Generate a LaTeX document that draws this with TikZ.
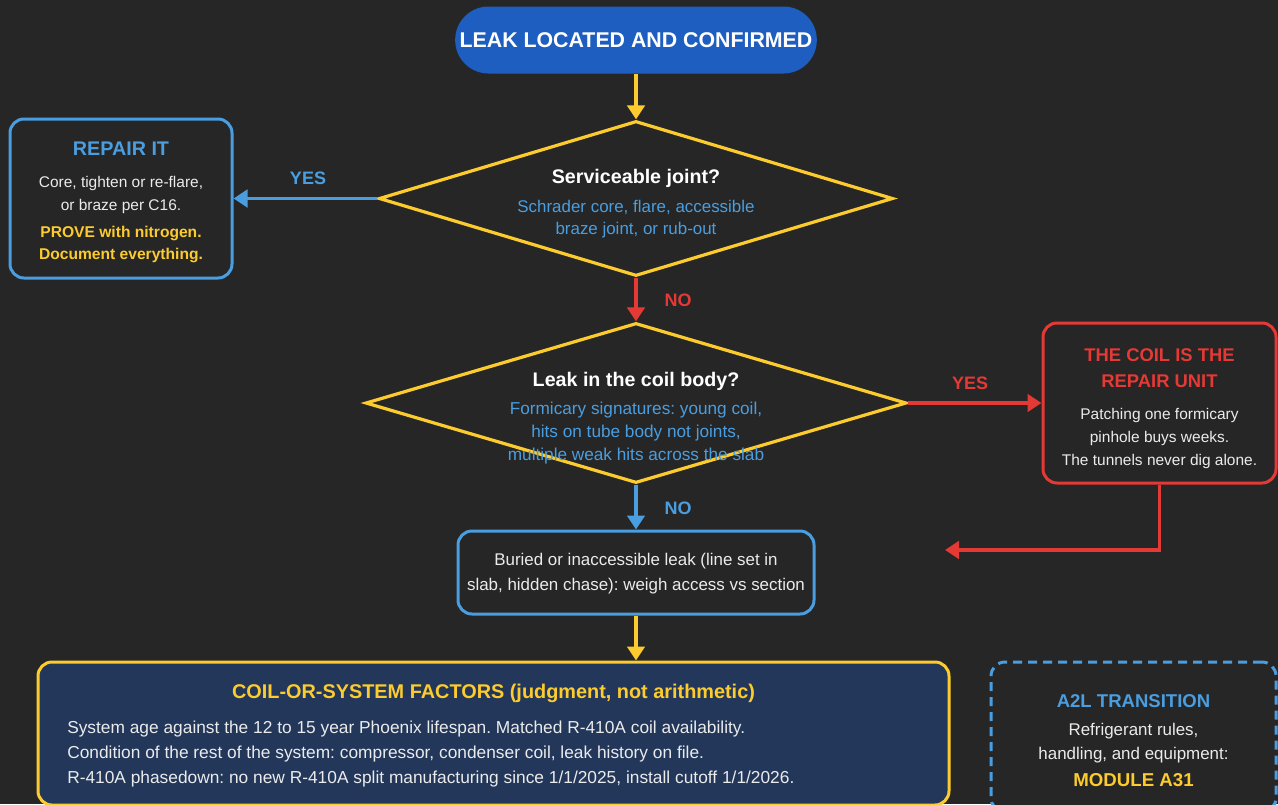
\documentclass[tikz,border=0pt]{standalone}
\usepackage{fontspec}
\setmainfont{Liberation Sans}
\usetikzlibrary{shapes.geometric,arrows.meta}
\definecolor{bg}{HTML}{262626}
\definecolor{yel}{HTML}{FCCB2E}
\definecolor{blu}{HTML}{4A9EE0}
\definecolor{myred}{HTML}{E53935}
\definecolor{txt}{HTML}{EBEBEB}
\definecolor{pill}{HTML}{1E5EC0}
\definecolor{navy}{HTML}{22375A}
\frenchspacing
\tikzset{
  tip/.style={-{Triangle[length=10.5pt,width=13pt]}},
  yarrow/.style={tip, draw=yel, line width=2.8pt},
  barrow/.style={tip, draw=blu, line width=2.8pt},
  rarrow/.style={tip, draw=myred, line width=2.8pt},
  dia/.style={diamond, draw=yel, line width=2.4pt, inner sep=0pt},
  box/.style={rectangle, rounded corners=10.5pt, line width=2.25pt, fill=bg},
  hd/.style={font=\bfseries\fontsize{14}{16}\selectfont},
  dhd/.style={font=\bfseries\fontsize{14.75}{17}\selectfont, text=white},
  bd/.style={font=\fontsize{11.6}{13}\selectfont, text=txt},
  bdl/.style={font=\fontsize{12.7}{14}\selectfont, text=txt},
  sb/.style={font=\fontsize{12.9}{14}\selectfont, text=blu},
  lbl/.style={font=\bfseries\fontsize{13.5}{16}\selectfont},
}
\begin{document}
\begin{tikzpicture}[x=0.75pt,y=-0.75pt]
\fill[bg] (0,0) rectangle (1278,804);
\clip (0,0) rectangle (1278,804);
\useasboundingbox (0,0) rectangle (1278,804);

% start
\node[fill=pill, rounded corners=25pt, minimum width=265.5pt, minimum height=50.25pt,
      text=white, font=\bfseries\fontsize{16}{18}\selectfont] (start) at (636,40) {LEAK LOCATED AND CONFIRMED};

% diamonds
\node[dia, minimum width=385.5pt, minimum height=116.25pt] (d1) at (636,198.5) {};
\node[dia, minimum width=405.75pt, minimum height=120pt] (d2) at (636,403) {};

\node[dhd] (d1t) at (636,178) {Serviceable joint?};
\node[sb, font=\fontsize{12.7}{14}\selectfont] (d1a) at (636,207) {Schrader core, flare, accessible};
\node[sb, font=\fontsize{12.7}{14}\selectfont] (d1b) at (636,230) {braze joint, or rub-out};

\node[dhd] (d2t) at (636,381) {Leak in the coil body?};
\node[sb] (d2a) at (636,410) {Formicary signatures: young coil,};
\node[sb] (d2b) at (636,433) {hits on tube body not joints,};
\node[sb] (d2c) at (636,456) {multiple weak hits across the slab};

% repair it
\node[box, draw=blu, minimum width=166.5pt, minimum height=119.25pt] (rep) at (121,198.5) {};
\node[hd, text=blu, font=\bfseries\fontsize{14.8}{16}\selectfont] (rept) at (121,149) {REPAIR IT};
\node[bd] (rep1) at (121,183) {Core, tighten or re-flare,};
\node[bd] (rep2) at (121,206) {or braze per C16.};
\node[bd, font=\bfseries\fontsize{11.7}{13}\selectfont, text=yel] (rep3) at (121,233) {PROVE with nitrogen.};
\node[bd, font=\bfseries\fontsize{11.7}{13}\selectfont, text=yel] (rep4) at (121,255) {Document everything.};

% coil box
\node[box, draw=myred, minimum width=174.75pt, minimum height=120pt] (coil) at (1159.5,403) {};
\node[hd, text=myred, font=\bfseries\fontsize{13.8}{16}\selectfont] (coilt1) at (1159.5,355) {THE COIL IS THE};
\node[hd, text=myred, font=\bfseries\fontsize{13.8}{16}\selectfont] (coilt2) at (1159.5,381) {REPAIR UNIT};
\node[bd] (coil1) at (1159.5,415) {Patching one formicary};
\node[bd] (coil2) at (1159.5,438) {pinhole buys weeks.};
\node[bd] (coil3) at (1159.5,461) {The tunnels never dig alone.};

% buried
\node[box, draw=blu, minimum width=267pt, minimum height=62.25pt] (bur) at (636,572.5) {};
\node[bdl] (bur1) at (636,561) {Buried or inaccessible leak (line set in};
\node[bdl] (bur2) at (636,586) {slab, hidden chase): weigh access vs section};

% factors
\node[box, draw=yel, fill=navy, minimum width=683.25pt, minimum height=107.25pt] (fac) at (493.5,733.5) {};
\node[hd, text=yel, font=\bfseries\fontsize{14.9}{17}\selectfont] (fact) at (493.5,693) {COIL-OR-SYSTEM FACTORS (judgment, not arithmetic)};
\node[bdl, font=\fontsize{13}{14}\selectfont, anchor=west, inner xsep=0pt] (fac1) at (67,729) {System age against the 12 to 15 year Phoenix lifespan. Matched R-410A coil availability.};
\node[bdl, font=\fontsize{13}{14}\selectfont, anchor=west, inner xsep=0pt] (fac2) at (67,754) {Condition of the rest of the system: compressor, condenser coil, leak history on file.};
\node[bdl, font=\fontsize{13}{14}\selectfont, anchor=west, inner xsep=0pt] (fac3) at (67,779) {R-410A phasedown: no new R-410A split manufacturing since 1/1/2025, install cutoff 1/1/2026.};

% A2L
\node[box, draw=blu, dash pattern=on 6.75pt off 4.5pt, minimum width=213.75pt, minimum height=112.5pt] (a2l) at (1133.5,737) {};
\node[hd, text=blu, font=\bfseries\fontsize{13.9}{16}\selectfont] (a2lt) at (1133.5,701) {A2L TRANSITION};
\node[bdl] (a2l1) at (1133.5,731) {Refrigerant rules,};
\node[bdl] (a2l2) at (1133.5,755) {handling, and equipment:};
\node[hd, text=yel] (a2l3) at (1133.5,780) {MODULE A31};

% connectors
\draw[yarrow] (start.south) -- (d1.north);
\draw[barrow] (d1.west) -- (rep.east);
\node[lbl, text=blu] (yes1) at (308,178) {YES};
\draw[rarrow] (d1.south) -- (d2.north);
\node[lbl, text=myred] (no1) at (678,300) {NO};
\draw[rarrow] (d2.east) -- (coil.west);
\node[lbl, text=myred] (yes2) at (970,383) {YES};
\draw[barrow] (d2.south) -- (bur.north);
\node[lbl, text=blu] (no2) at (678,508) {NO};
\coordinate (redend) at (945,550);
\draw[rarrow] (coil.south) |- (redend);
\draw[yarrow] (bur.south) -- (bur.south |- fac.north);
\end{tikzpicture}
\end{document}
